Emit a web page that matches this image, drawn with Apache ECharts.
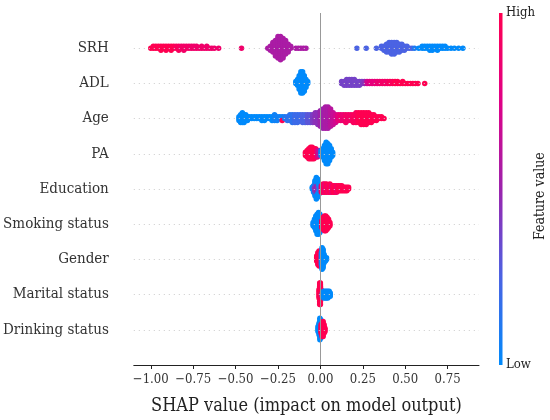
<!DOCTYPE html>
<html>
<head>
<meta charset="utf-8">
<script src="https://cdn.jsdelivr.net/npm/echarts@6/dist/echarts.min.js"></script>
<style>
  html, body { margin: 0; padding: 0; background: #fff; }
  #main { width: 550px; height: 420px; }
</style>
</head>
<body>
<div id="main"></div>
<script>
// feature names, bottom row first
var features = ['Drinking status', 'Marital status', 'Gender', 'Smoking status',
                'Education', 'PA', 'Age', 'ADL', 'SRH'];
var xTicks = [-1.00, -0.75, -0.50, -0.25, 0.00, 0.25, 0.50, 0.75];

// each entry: [SHAP value, feature value (0 low .. 1 high), number of samples]
var srh = [
    [-1.000, 1, 1], [-0.985, 1, 2], [-0.970, 1, 2], [-0.955, 1, 2], [-0.940, 1, 3], [-0.925, 1, 2],
    [-0.910, 1, 3], [-0.895, 1, 2], [-0.880, 1, 3], [-0.865, 1, 2], [-0.850, 0.95, 2], [-0.835, 0.95, 3],
    [-0.820, 0.9, 2], [-0.805, 0.9, 3], [-0.790, 0.9, 2], [-0.775, 0.9, 2], [-0.760, 0.88, 2],
    [-0.745, 0.88, 2], [-0.730, 0.88, 2], [-0.715, 0.88, 1], [-0.700, 0.88, 2], [-0.685, 0.88, 1],
    [-0.670, 0.88, 2], [-0.655, 0.88, 1], [-0.640, 0.88, 1], [-0.625, 0.88, 1], [-0.600, 0.88, 1],
    [-0.465, 0.88, 1],
    [-0.310, 0.55, 1], [-0.295, 0.55, 3], [-0.280, 0.55, 6], [-0.265, 0.55, 9], [-0.250, 0.55, 12],
    [-0.235, 0.55, 13], [-0.220, 0.55, 11], [-0.205, 0.55, 8], [-0.190, 0.55, 5], [-0.175, 0.55, 2],
    [-0.145, 0.55, 1], [-0.130, 0.55, 1], [-0.115, 0.55, 1], [-0.100, 0.55, 1], [-0.085, 0.55, 1],
    [0.215, 0.25, 1], [0.270, 0.25, 1], [0.330, 0.25, 1], [0.360, 0.25, 2], [0.375, 0.25, 3],
    [0.390, 0.25, 5], [0.405, 0.25, 6], [0.420, 0.25, 7], [0.435, 0.25, 7], [0.450, 0.25, 6],
    [0.465, 0.25, 5], [0.480, 0.25, 4], [0.495, 0.25, 3], [0.510, 0.25, 2], [0.525, 0.25, 1],
    [0.540, 0.25, 1], [0.555, 0.1, 1],
    [0.580, 0, 1], [0.600, 0, 2], [0.615, 0, 2], [0.630, 0, 2], [0.645, 0, 3], [0.660, 0, 3],
    [0.675, 0, 2], [0.690, 0, 3], [0.705, 0, 2], [0.720, 0, 2], [0.735, 0, 2], [0.750, 0, 1],
    [0.770, 0, 1], [0.790, 0, 1], [0.815, 0, 1], [0.840, 0, 1]
];
var adl = [
    [-0.145, 0, 2], [-0.135, 0, 4], [-0.125, 0, 8], [-0.115, 0, 12], [-0.105, 0, 12],
    [-0.095, 0, 9], [-0.085, 0, 5], [-0.075, 0, 2],
    [0.125, 0.38, 2], [0.140, 0.38, 3], [0.155, 0.38, 4], [0.170, 0.38, 4], [0.185, 0.38, 4],
    [0.200, 0.38, 4], [0.215, 0.38, 3], [0.230, 0.38, 3], [0.245, 0.4, 2], [0.260, 0.45, 2],
    [0.275, 0.7, 2], [0.290, 0.75, 2], [0.305, 0.8, 2], [0.320, 0.8, 2], [0.335, 0.85, 2],
    [0.350, 0.85, 2], [0.365, 0.9, 2], [0.380, 0.9, 2], [0.395, 0.9, 2], [0.410, 0.95, 2],
    [0.425, 0.95, 2], [0.440, 1, 2], [0.455, 1, 2], [0.470, 1, 1], [0.485, 1, 2], [0.500, 1, 1],
    [0.515, 1, 1], [0.530, 1, 1], [0.545, 1, 1], [0.560, 1, 1], [0.575, 1, 1], [0.615, 1, 1]
];
var age = [
    [-0.480, 0, 3], [-0.470, 0, 5], [-0.460, 0, 6], [-0.450, 0, 5], [-0.440, 0, 4], [-0.430, 0, 3],
    [-0.420, 0, 2], [-0.405, 0, 2], [-0.390, 0, 2], [-0.375, 0, 2], [-0.360, 0, 2], [-0.345, 0, 3],
    [-0.330, 0, 3], [-0.315, 0, 2], [-0.300, 0, 2], [-0.285, 0, 3], [-0.270, 0.05, 4], [-0.255, 0.05, 3],
    [-0.240, 0.05, 2], [-0.225, 0.05, 2], [-0.225, 1, 1], [-0.210, 0.1, 2], [-0.195, 0.15, 3],
    [-0.180, 0.15, 4], [-0.165, 0.15, 5], [-0.150, 0.2, 5], [-0.135, 0.2, 5], [-0.120, 0.2, 4],
    [-0.105, 0.25, 5], [-0.090, 0.25, 5], [-0.075, 0.3, 5], [-0.060, 0.3, 5],
    [-0.045, 0.4, 5], [-0.030, 0.45, 6], [-0.015, 0.45, 7], [0.000, 0.5, 9], [0.015, 0.5, 11],
    [0.030, 0.55, 12], [0.045, 0.55, 12], [0.060, 0.6, 10], [0.075, 0.65, 7], [0.090, 0.7, 5],
    [0.105, 0.8, 4], [0.120, 0.85, 4], [0.135, 0.85, 4], [0.150, 0.9, 5], [0.165, 0.9, 4],
    [0.180, 0.9, 4], [0.195, 0.95, 5], [0.210, 0.95, 6], [0.225, 1, 6], [0.240, 1, 7], [0.255, 1, 7],
    [0.270, 1, 7], [0.285, 1, 6], [0.300, 1, 5], [0.315, 1, 4], [0.330, 1, 3], [0.345, 1, 2],
    [0.360, 1, 2], [0.375, 1, 1]
];
var pa = [
    [-0.088, 1, 3], [-0.078, 1, 5], [-0.068, 1, 7], [-0.058, 1, 8], [-0.048, 1, 8], [-0.038, 1, 7],
    [-0.028, 1, 6], [-0.018, 0.8, 5], [-0.008, 0.6, 4],
    [0.004, 0, 4], [0.014, 0, 6], [0.024, 0, 10], [0.034, 0, 14], [0.044, 0, 13], [0.054, 0, 10],
    [0.064, 0, 6], [0.072, 0, 3]
];
var education = [
    [-0.048, 0, 2], [-0.040, 0.3, 2], [-0.040, 0, 3], [-0.032, 0.45, 5], [-0.032, 0, 5],
    [-0.024, 0.5, 7], [-0.024, 0, 7], [-0.016, 0.45, 6], [-0.016, 0, 6], [-0.008, 0.3, 3],
    [-0.008, 0, 4], [-0.002, 0.1, 3],
    [0.006, 0.9, 5], [0.016, 1, 6], [0.026, 0.85, 6], [0.036, 1, 6], [0.046, 0.9, 5], [0.056, 1, 6],
    [0.066, 0.85, 5], [0.076, 1, 5], [0.086, 1, 5], [0.096, 0.9, 5], [0.106, 1, 4], [0.116, 1, 4],
    [0.126, 1, 4], [0.136, 1, 3], [0.146, 1, 3], [0.156, 1, 3], [0.166, 1, 2]
];
var smoking = [
    [-0.043, 0, 3], [-0.035, 0, 6], [-0.027, 0, 10], [-0.019, 0, 13], [-0.011, 0, 14], [-0.003, 0, 12],
    [0.005, 0, 8], [0.012, 0, 4],
    [0.008, 1, 5], [0.016, 1, 8], [0.024, 1, 10], [0.032, 1, 10], [0.040, 1, 8], [0.048, 1, 6],
    [0.056, 1, 3]
];
var gender = [
    [-0.022, 1, 4], [-0.015, 1, 8], [-0.008, 1, 10], [-0.001, 1, 8], [0.004, 1, 4],
    [0.006, 0, 8], [0.010, 0, 14], [0.016, 0, 12], [0.022, 0, 6], [0.030, 0, 3], [0.036, 0, 2]
];
var marital = [
    [-0.008, 1, 6], [-0.004, 1, 14], [0.000, 1, 14], [0.004, 1, 6],
    [0.012, 0, 3], [0.020, 0, 5], [0.028, 0, 5], [0.036, 0, 5], [0.044, 0, 5], [0.052, 0, 4],
    [0.058, 0, 3]
];
var drinking = [
    [-0.014, 0, 4], [-0.008, 0, 8], [-0.003, 0, 14], [0.002, 0, 12], [0.007, 0, 6], [0.011, 0, 3],
    [0.004, 1, 6], [0.010, 1, 9], [0.016, 1, 10], [0.022, 1, 6], [0.027, 1, 3]
];

var rows = [drinking, marital, gender, smoking, education, pa, age, adl, srh];
var cmap = ['#008afb', '#4b63e3', '#9c23ad', '#e00086', '#ff0051'];
var serif = "'DejaVu Serif Condensed', 'DejaVu Serif', serif";

// beeswarm: samples sharing a SHAP value are piled up alternately above and below the row
function swarm(row, idx) {
    var totals = {}, used = {}, maxN = 1, pts = [];
    row.forEach(function (e) {
        totals[e[0]] = (totals[e[0]] || 0) + e[2];
        maxN = Math.max(maxN, totals[e[0]]);
    });
    var step = 0.33 / Math.max(1, Math.ceil((maxN - 1) / 2));
    row.forEach(function (e) {
        for (var k = 0; k < e[2]; k++) {
            var layer = used[e[0]] || 0;
            used[e[0]] = layer + 1;
            var off = Math.ceil(layer / 2) * (layer % 2 ? 1 : -1);
            pts.push([e[0], idx + off * step, e[1]]);
        }
    });
    return pts;
}

var points = [];
rows.forEach(function (r, i) { points = points.concat(swarm(r, i)); });

var myChart = echarts.init(document.getElementById('main'));
var option = {
    animation: false,
    grid: { left: 133, right: 71, top: 13, bottom: 55 },
    visualMap: {
        show: false,
        type: 'continuous',
        dimension: 2,
        min: 0,
        max: 1,
        seriesIndex: 0,
        inRange: { color: cmap }
    },
    xAxis: {
        type: 'value',
        min: -1.1,
        max: 0.935,
        name: 'SHAP value (impact on model output)',
        nameLocation: 'middle',
        nameGap: 32,
        nameTextStyle: { fontFamily: serif, fontSize: 18, color: '#222' },
        axisLine: { onZero: false, lineStyle: { color: '#222', width: 1 } },
        axisTick: { show: true, customValues: xTicks, length: 4, lineStyle: { color: '#222' } },
        axisLabel: {
            customValues: xTicks,
            fontFamily: serif,
            fontSize: 13,
            color: '#333',
            margin: 8,
            formatter: function (v) { return (v < 0 ? '\u2212' : '') + Math.abs(v).toFixed(2); }
        },
        splitLine: { show: false }
    },
    yAxis: {
        type: 'value',
        min: -1,
        max: 9,
        interval: 1,
        axisLine: { show: false },
        axisTick: { show: false },
        splitLine: { show: false },
        axisLabel: {
            fontFamily: serif,
            fontSize: 15,
            color: '#333',
            margin: 25,
            formatter: function (v) { return features[v] || ''; }
        }
    },
    series: [{
        type: 'scatter',
        data: points,
        symbolSize: 5.5,
        itemStyle: { opacity: 1 },
        z: 3
    }, {
        type: 'scatter',
        data: [],
        z: 1,
        markLine: {
            silent: true,
            symbol: 'none',
            label: { show: false },
            lineStyle: { color: '#cccccc', type: [1, 4], width: 1 },
            data: features.map(function (f, i) { return { yAxis: i }; })
        }
    }, {
        type: 'scatter',
        data: [],
        z: 2,
        markLine: {
            silent: true,
            symbol: 'none',
            label: { show: false },
            lineStyle: { color: '#999999', type: 'solid', width: 1 },
            data: [{ xAxis: 0 }]
        }
    }],
    graphic: [{
        type: 'rect',
        left: 499, top: 13,
        shape: { width: 3.5, height: 352 },
        style: {
            fill: new echarts.graphic.LinearGradient(0, 0, 0, 1, [
                { offset: 0, color: cmap[4] }, { offset: 0.25, color: cmap[3] },
                { offset: 0.5, color: cmap[2] }, { offset: 0.75, color: cmap[1] },
                { offset: 1, color: cmap[0] }
            ])
        }
    }, {
        type: 'text', left: 506, top: 6,
        style: { text: 'High', font: '13px ' + serif, fill: '#222' }
    }, {
        type: 'text', left: 506, top: 358,
        style: { text: 'Low', font: '13px ' + serif, fill: '#222' }
    }, {
        type: 'text', x: 533, y: 240, rotation: Math.PI / 2,
        style: { text: 'Feature value', font: '14px ' + serif, fill: '#222' }
    }]
};
myChart.setOption(option);
</script>
</body>
</html>
